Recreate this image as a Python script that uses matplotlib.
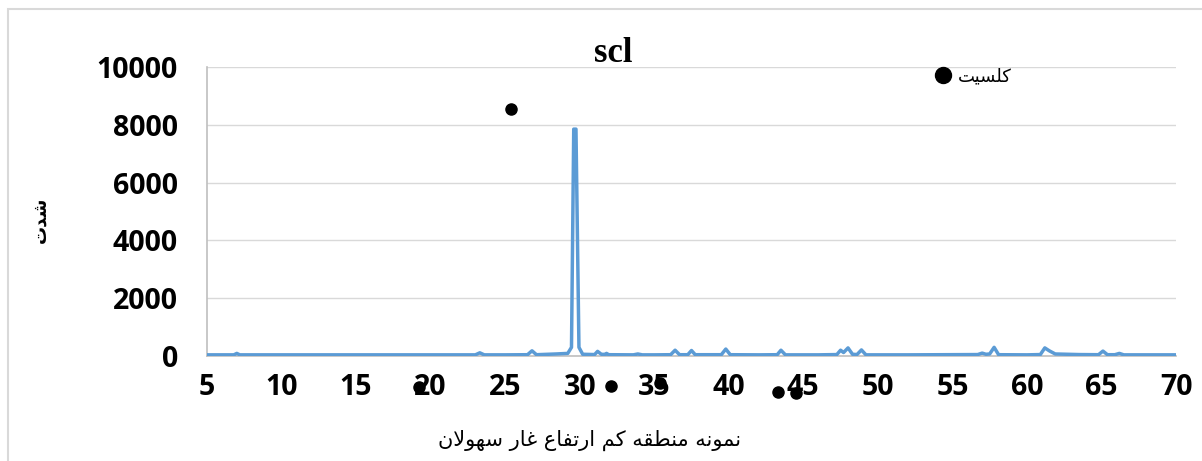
import matplotlib
matplotlib.use("Agg")
import matplotlib.pyplot as plt
from matplotlib.lines import Line2D
from matplotlib.patches import Rectangle

# XRD trace (2-theta, counts)
two_theta = [5.0, 6.8, 7.0, 7.2, 9.0, 12.0, 15.0, 18.0, 21.0,
             23.0, 23.3, 23.6, 25.0, 26.5, 26.8, 27.1,
             28.4, 29.2, 29.45, 29.6, 29.75, 29.95, 30.2,
             31.0, 31.2, 31.45, 31.7, 31.8, 31.95, 33.6, 33.9, 34.2, 35.0,
             36.1, 36.4, 36.7, 37.25, 37.5, 37.75, 39.5, 39.8, 40.1,
             42.0, 43.25, 43.5, 43.8, 46.0, 47.25, 47.5, 47.7, 48.0, 48.3,
             48.6, 48.9, 49.2, 52.0, 56.7, 57.0, 57.25, 57.5, 57.8, 58.1,
             60.0, 60.9, 61.2, 61.5, 61.9, 63.5, 64.8, 65.1, 65.4,
             65.9, 66.2, 66.5, 68.0, 70.0]
intensity = [40, 40, 90, 40, 40, 40, 40, 40, 40,
             40, 110, 40, 40, 45, 180, 45,
             70, 90, 300, 7850, 7850, 300, 60,
             50, 160, 60, 55, 90, 45, 40, 70, 40, 40,
             45, 200, 45, 45, 190, 45, 45, 240, 45,
             40, 45, 200, 40, 40, 50, 200, 120, 280, 60,
             50, 210, 40, 40, 50, 100, 60, 70, 300, 45,
             40, 50, 280, 180, 70, 50, 45, 170, 45,
             45, 90, 40, 40, 40]

# calcite markers
calcite_theta = [25.4, 19.2, 32.1, 35.4, 43.3, 44.5]
calcite_pos = [8550, -1060, -1040, -950, -1240, -1290]

x_ticks = [5, 10, 15, 20, 25, 30, 35, 40, 45, 50, 55, 60, 65, 70]
y_ticks = [0, 2000, 4000, 6000, 8000, 10000]

title = "scl"
legend_label = "کلسیت"
x_label = "نمونه منطقه کم ارتفاع غار سهولان"
y_label = "شدت"

# minimal arabic/persian shaping: (isolated, final, initial, medial)
FORMS = {
    "ا": ("\ufe8d", "\ufe8e"),
    "د": ("\ufea9", "\ufeaa"),
    "ر": ("\ufead", "\ufeae"),
    "و": ("\ufeed", "\ufeee"),
    "ت": ("\ufe95", "\ufe96", "\ufe97", "\ufe98"),
    "س": ("\ufeb1", "\ufeb2", "\ufeb3", "\ufeb4"),
    "ش": ("\ufeb5", "\ufeb6", "\ufeb7", "\ufeb8"),
    "ط": ("\ufec1", "\ufec2", "\ufec3", "\ufec4"),
    "ع": ("\ufec9", "\ufeca", "\ufecb", "\ufecc"),
    "غ": ("\ufecd", "\ufece", "\ufecf", "\ufed0"),
    "ف": ("\ufed1", "\ufed2", "\ufed3", "\ufed4"),
    "ق": ("\ufed5", "\ufed6", "\ufed7", "\ufed8"),
    "ک": ("\ufb8e", "\ufb8f", "\ufedb", "\ufedc"),
    "ل": ("\ufedd", "\ufede", "\ufedf", "\ufee0"),
    "م": ("\ufee1", "\ufee2", "\ufee3", "\ufee4"),
    "ن": ("\ufee5", "\ufee6", "\ufee7", "\ufee8"),
    "ه": ("\ufee9", "\ufeea", "\ufeeb", "\ufeec"),
    "ی": ("\ufbfc", "\ufbfd", "\ufef3", "\ufef4"),
}


def shape(text):
    """Join letters into presentation forms and flip for left-to-right drawing."""
    out = []
    i = 0
    while i < len(text):
        c = text[i]
        prev = text[i - 1] if i > 0 else None
        nxt = text[i + 1] if i + 1 < len(text) else None
        joins_prev = prev in FORMS and len(FORMS[prev]) == 4 and c in FORMS
        if c == "ل" and nxt == "ا":
            out.append("\ufefc" if joins_prev else "\ufefb")
            i += 2
            continue
        if c not in FORMS:
            out.append(c)
            i += 1
            continue
        f = FORMS[c]
        joins_next = len(f) == 4 and nxt in FORMS
        if joins_prev and joins_next:
            out.append(f[3])
        elif joins_prev:
            out.append(f[1])
        elif joins_next:
            out.append(f[2])
        else:
            out.append(f[0])
        i += 1
    return "".join(reversed(out))


W, H = 1202, 461
fig = plt.figure(figsize=(W / 100, H / 100), dpi=100)

# chart border (cropped in the reference)
fig.patches.append(Rectangle((8 / W, -0.1), 1.2, 1 - 9 / H + 0.1, transform=fig.transFigure,
                             fill=False, edgecolor="#d9d9d9", linewidth=1.5))

ax = fig.add_axes([207 / W, 1 - 356 / H, (1176 - 207) / W, (356 - 67) / H])
ax.set_xlim(5, 70)
ax.set_ylim(0, 10000)

ax.plot(two_theta, intensity, color="#5B9BD5", linewidth=2.5, zorder=3)
ax.plot(calcite_theta, calcite_pos, linestyle="none", marker="o", color="black",
        markersize=8, clip_on=False, zorder=5)

tick_font = {"family": "Open Sans", "weight": "bold", "size": 20.5}
ax.set_xticks(x_ticks)
ax.set_yticks(y_ticks)
ax.set_xticklabels([str(t) for t in x_ticks], fontdict=tick_font)
ax.set_yticklabels([str(t) for t in y_ticks], fontdict=tick_font)
ax.tick_params(axis="x", length=0, pad=12)
ax.tick_params(axis="y", length=0, pad=21)
ax.grid(axis="y", color="#d9d9d9", linewidth=1)
ax.set_axisbelow(True)
for side in ["top", "right"]:
    ax.spines[side].set_visible(False)
ax.spines["left"].set_color("#bfbfbf")
ax.spines["bottom"].set_color("#bfbfbf")
ax.spines["left"].set_linewidth(1.2)
ax.spines["bottom"].set_linewidth(1.2)

fig.text(613 / W, 1 - 53 / H, title, ha="center", va="center", fontsize=25,
         fontweight="bold", family="Liberation Serif")
fig.text(590 / W, 1 - 440 / H, shape(x_label), ha="center", va="center", fontsize=15,
         family="DejaVu Sans")
fig.text(40 / W, 1 - 220 / H, shape(y_label), ha="center", va="center", fontsize=13,
         fontweight="bold", rotation=90, family="DejaVu Sans")

# legend entry for the calcite marker
handle = Line2D([], [], linestyle="none", marker="o", color="black", markersize=11.5)
ax.legend([handle], [shape(legend_label)], loc="center left",
          bbox_to_anchor=(925 / W, 1 - 76 / H), bbox_transform=fig.transFigure,
          frameon=False, handlelength=1.0, handletextpad=0.3, borderpad=0,
          prop={"family": "DejaVu Sans", "size": 13})

fig.savefig("out.png", dpi=100)
